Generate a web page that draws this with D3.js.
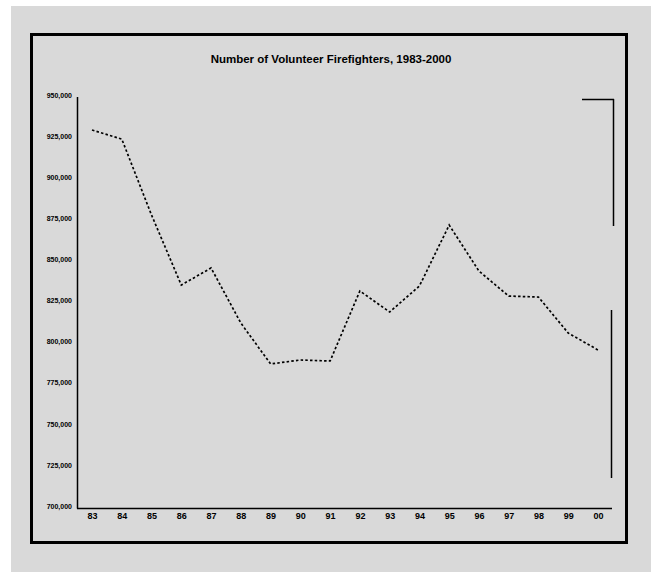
<!DOCTYPE html>
<html>
<head>
<meta charset="utf-8">
<style>
  body { margin: 0; background: #fff; }
  svg text { font-family: "Liberation Sans", Arial, sans-serif; fill: #000; }
  .line { fill: none; stroke: #000; stroke-width: 1.7px; stroke-dasharray: 2.5,2.2; }
</style>
</head>
<body>
<script src="https://d3js.org/d3.v7.min.js"></script>
<script>
// volunteer firefighters per year
var years = [1983, 1984, 1985, 1986, 1987, 1988, 1989, 1990, 1991,
             1992, 1993, 1994, 1995, 1996, 1997, 1998, 1999, 2000];
var firefighters = [928700, 923200, 877000, 834400, 844800, 811300, 786400, 788800, 788200,
                    830800, 818000, 833800, 870900, 842900, 827700, 827100, 805200, 794900];
var yTicks = [700000, 725000, 750000, 775000, 800000, 825000, 850000, 875000, 900000, 925000, 950000];
var titleText = "Number of Volunteer Firefighters, 1983-2000";

var W = 651, H = 572;

var svg = d3.select("body").append("svg")
    .attr("width", W)
    .attr("height", H);

// grey page area
svg.append("rect")
    .attr("x", 11).attr("y", 6)
    .attr("width", W - 11).attr("height", H - 6)
    .attr("fill", "#d9d9d9");

// outer frame
svg.append("rect")
    .attr("x", 31.5).attr("y", 34.5)
    .attr("width", 595).attr("height", 508)
    .attr("fill", "none")
    .attr("stroke", "#000")
    .attr("stroke-width", 3);

// title
svg.append("text")
    .attr("x", 331).attr("y", 63)
    .attr("text-anchor", "middle")
    .style("font-size", "11.5px")
    .style("font-weight", "bold")
    .text(titleText);

// scales
var x = d3.scalePoint().domain(years).range([92, 598]);
var y = d3.scaleLinear().domain([700000, 950000]).range([506, 95]);

// plot box lines
var plot = svg.append("g");
plot.append("line")
    .attr("x1", 77.5).attr("x2", 77.5).attr("y1", 97).attr("y2", 508.5)
    .attr("stroke", "#000").attr("stroke-width", 1.5);
plot.append("line")
    .attr("x1", 77).attr("x2", 612).attr("y1", 508.5).attr("y2", 508.5)
    .attr("stroke", "#000").attr("stroke-width", 1.5);
plot.append("line")
    .attr("x1", 582).attr("x2", 614).attr("y1", 99.5).attr("y2", 99.5)
    .attr("stroke", "#000").attr("stroke-width", 1.5);
plot.append("line")
    .attr("x1", 613.5).attr("x2", 613.5).attr("y1", 99).attr("y2", 226)
    .attr("stroke", "#000").attr("stroke-width", 1.5);
plot.append("line")
    .attr("x1", 611.5).attr("x2", 611.5).attr("y1", 310).attr("y2", 478)
    .attr("stroke", "#000").attr("stroke-width", 1.5);

// y axis labels
var yAxis = svg.append("g")
    .attr("transform", "translate(72,0)")
    .call(d3.axisLeft(y).tickValues(yTicks).tickSize(0).tickPadding(0)
        .tickFormat(d3.format(",")));
yAxis.select(".domain").remove();
yAxis.selectAll("text")
    .style("font-size", "7px")
    .style("font-weight", "bold")
    .style("font-family", "'Liberation Sans', Arial, sans-serif");

// x axis labels
var xAxis = svg.append("g")
    .attr("transform", "translate(0,513)")
    .call(d3.axisBottom(x).tickSize(0).tickPadding(0)
        .tickFormat(function(d) { return String(d).slice(2); }));
xAxis.select(".domain").remove();
xAxis.selectAll("text")
    .style("font-size", "9px")
    .style("font-weight", "bold")
    .style("font-family", "'Liberation Sans', Arial, sans-serif");

// the series line
var line = d3.line()
    .x(function(d, i) { return x(years[i]); })
    .y(function(d) { return y(d); });

svg.append("path")
    .datum(firefighters)
    .attr("class", "line")
    .attr("d", line);
</script>
</body>
</html>
